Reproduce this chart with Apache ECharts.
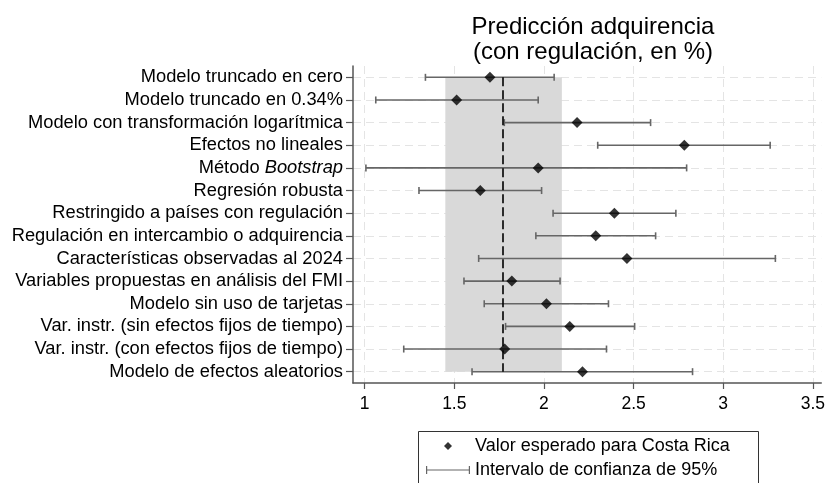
<!DOCTYPE html>
<html>
<head>
<meta charset="utf-8">
<script src="https://cdn.jsdelivr.net/npm/echarts@6/dist/echarts.min.js"></script>
<style>html,body{margin:0;padding:0;background:#fff}#c{width:828px;height:483px}</style>
</head>
<body>
<div id="c"></div>
<script>
var categories = [
  'Modelo truncado en cero',
  'Modelo truncado en 0.34%',
  'Modelo con transformación logarítmica',
  'Efectos no lineales',
  'Método Bootstrap',
  'Regresión robusta',
  'Restringido a países con regulación',
  'Regulación en intercambio o adquirencia',
  'Características observadas al 2024',
  'Variables propuestas en análisis del FMI',
  'Modelo sin uso de tarjetas',
  'Var. instr. (sin efectos fijos de tiempo)',
  'Var. instr. (con efectos fijos de tiempo)',
  'Modelo de efectos aleatorios'
];
var estimates = [1.699, 1.513, 2.185, 2.783, 1.968, 1.645, 2.393, 2.289, 2.463, 1.821, 2.014, 2.144, 1.781, 2.215];
var lowerCI  = [1.339, 1.062, 1.779, 2.300, 1.007, 1.303, 2.051, 1.955, 1.636, 1.554, 1.667, 1.786, 1.218, 1.599];
var upperCI  = [2.057, 1.968, 2.595, 3.262, 2.796, 1.987, 2.736, 2.623, 3.291, 2.090, 2.360, 2.506, 2.349, 2.829];
var xTicks = [1, 1.5, 2, 2.5, 3, 3.5];
var referenceValue = 1.773;
var referenceBand = [1.45, 2.1];
var titleText = 'Predicción adquirencia\n(con regulación, en %)';
var legendPoint = 'Valor esperado para Costa Rica';
var legendCI = 'Intervalo de confianza de 95%';

var rowIdx = categories.map(function (_, i) { return i + 1; });
var pointData = estimates.map(function (v, i) { return [v, i + 1]; });
var ciData = lowerCI.map(function (v, i) { return [v, upperCI[i], i + 1]; });

var FONT = '"Liberation Sans", Arial, sans-serif';
var chart = echarts.init(document.getElementById('c'));
chart.setOption({
  animation: false,
  textStyle: { fontFamily: FONT },
  title: {
    text: titleText,
    left: 588, top: 10, textAlign: 'center',
    textStyle: { fontFamily: FONT, fontSize: 24, lineHeight: 25, fontWeight: 'normal', color: '#000' }
  },
  grid: { left: 353, right: 6, top: 66, bottom: 100, containLabel: false },
  xAxis: {
    type: 'value', min: 0.935, max: 3.547,
    axisLine: { show: true, lineStyle: { color: '#555', width: 1.5 } },
    axisTick: { show: true, length: 6, customValues: xTicks, lineStyle: { color: '#555', width: 1.2 } },
    axisLabel: { customValues: xTicks, fontSize: 17.5, color: '#000', fontFamily: FONT, margin: 12 },
    splitLine: { show: true, lineStyle: { color: '#e4e4e4', type: [8, 5], width: 1 } }
  },
  yAxis: {
    type: 'value', min: 0.5, max: 14.5, inverse: true,
    axisLine: { show: true, lineStyle: { color: '#555', width: 1.5 } },
    axisTick: { show: true, length: 7, customValues: rowIdx, lineStyle: { color: '#555', width: 1.2 } },
    axisLabel: {
      customValues: rowIdx, fontSize: 18.3, color: '#000', fontFamily: FONT, margin: 10,
      formatter: function (v) {
        var s = categories[Math.round(v) - 1] || '';
        if (s.indexOf('Bootstrap') >= 0) return s.replace('Bootstrap', '{i|Bootstrap}');
        return s;
      },
      rich: { i: { fontStyle: 'italic', fontSize: 18.3, fontFamily: FONT, color: '#000' } }
    },
    splitLine: { show: true, lineStyle: { color: '#e4e4e4', type: [8, 5], width: 1 } }
  },
  legend: {
    orient: 'vertical', left: 426, top: 437, padding: 0,
    itemWidth: 44, itemHeight: 8, itemGap: 6,
    textStyle: { fontFamily: FONT, fontSize: 18, lineHeight: 18, color: '#000' },
    data: [
      { name: legendPoint, icon: 'path://M5,0L10,5L5,10L0,5Z' },
      { name: legendCI, icon: 'path://M0,0H1.2V8H0ZM0,3.4H44V4.6H0ZM42.8,0H44V8H42.8Z' }
    ],
    selectedMode: false
  },
  graphic: [{
    type: 'rect', left: 418, top: 431, z: -1,
    shape: { width: 340, height: 60 },
    style: { fill: '#fff', stroke: '#333', lineWidth: 1 }
  }],
  series: [
    {
      name: 'band', type: 'scatter', data: [], silent: true, z: 1,
      markArea: {
        silent: true,
        itemStyle: { color: '#d9d9d9' },
        data: [[{ coord: [referenceBand[0], 1] }, { coord: [referenceBand[1], 14] }]]
      }
    },
    {
      name: legendCI, type: 'custom', z: 3,
      itemStyle: { color: '#666' },
      data: ciData,
      encode: { x: [0, 1], y: 2 },
      renderItem: function (params, api) {
        var a = api.coord([api.value(0), api.value(2)]);
        var b = api.coord([api.value(1), api.value(2)]);
        var h = 3.5;
        var st = { stroke: '#666', lineWidth: 1.6 };
        return {
          type: 'group',
          children: [
            { type: 'line', shape: { x1: a[0], y1: a[1], x2: b[0], y2: b[1] }, style: st },
            { type: 'line', shape: { x1: a[0], y1: a[1] - h, x2: a[0], y2: a[1] + h }, style: st },
            { type: 'line', shape: { x1: b[0], y1: b[1] - h, x2: b[0], y2: b[1] + h }, style: st }
          ]
        };
      }
    },
    {
      name: 'ref', type: 'scatter', data: [], silent: true, z: 4,
      markLine: {
        silent: true, symbol: 'none',
        label: { show: false },
        lineStyle: { color: '#000', type: [9, 4], width: 1.6 },
        data: [[{ coord: [referenceValue, 1] }, { coord: [referenceValue, 14] }]]
      }
    },
    {
      name: legendPoint, type: 'scatter', z: 5,
      symbol: 'diamond', symbolSize: 11,
      itemStyle: { color: '#000' },
      data: pointData
    }
  ]
});
</script>
</body>
</html>
